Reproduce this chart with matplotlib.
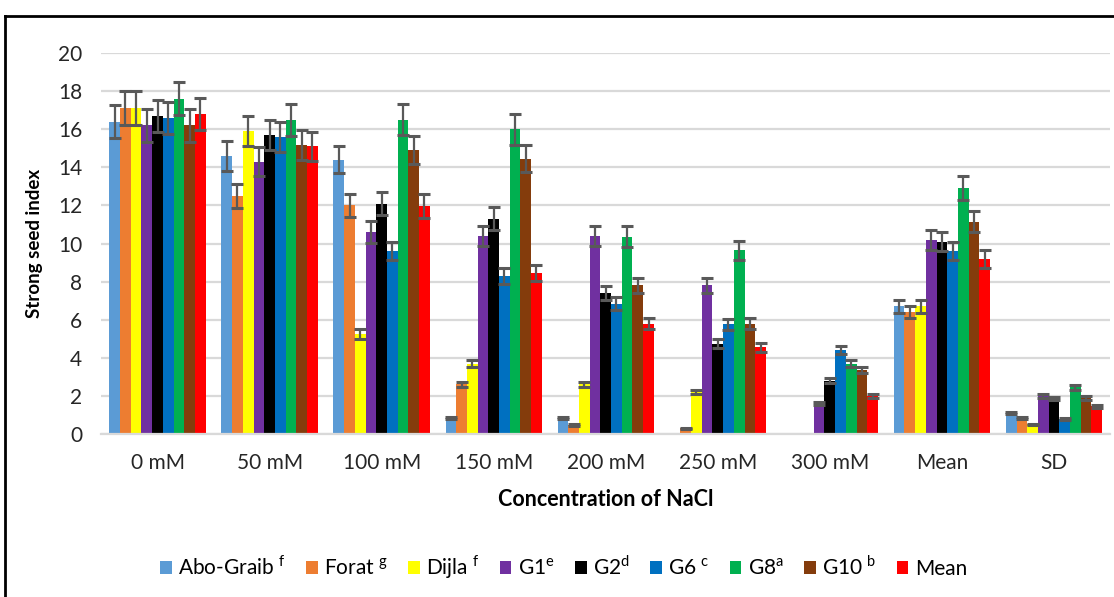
import numpy as np
import matplotlib
matplotlib.use('Agg')
import matplotlib.pyplot as plt
from matplotlib.lines import Line2D

plt.rcParams['font.family'] = ['Lato', 'DejaVu Sans']
plt.rcParams['mathtext.fontset'] = 'custom'
plt.rcParams['mathtext.rm'] = 'Lato'

# categories
groups = ['0 mM', '50 mM', '100 mM', '150 mM', '200 mM', '250 mM', '300 mM', 'Mean', 'SD']

# series names (legend) and colours
names = [r'Abo-Graib$^{\ \mathrm{f}}$', r'Forat$^{\ \mathrm{g}}$', r'Dijla$^{\ \mathrm{f}}$',
         r'G1$^{\mathrm{e}}$', r'G2$^{\mathrm{d}}$', r'G6$^{\ \mathrm{c}}$',
         r'G8$^{\mathrm{a}}$', r'G10$^{\ \mathrm{b}}$', 'Mean']
colors = ['#5B9BD5', '#ED7D31', '#FFFF00', '#7030A0', '#000000',
          '#0070C0', '#00B050', '#843C0C', '#FF0000']

# values
abo   = [16.4, 14.6, 14.4, 0.82, 0.82, 0.0, 0.0, 6.7, 1.1]
forat = [17.1, 12.5, 12.0, 2.6, 0.47, 0.3, 0.0, 6.4, 0.86]
dijla = [17.1, 15.9, 5.25, 3.7, 2.6, 2.2, 0.0, 6.7, 0.5]
g1    = [16.2, 14.3, 10.6, 10.4, 10.4, 7.8, 1.6, 10.2, 2.0]
g2    = [16.7, 15.7, 12.1, 11.3, 7.4, 4.75, 2.8, 10.1, 1.85]
g6    = [16.6, 15.6, 9.6, 8.3, 6.85, 5.75, 4.4, 9.6, 0.8]
g8    = [17.6, 16.5, 16.5, 16.0, 10.35, 9.65, 3.7, 12.9, 2.45]
g10   = [16.2, 15.15, 14.9, 14.45, 7.8, 5.8, 3.35, 11.15, 1.9]
mean  = [16.8, 15.1, 11.95, 8.45, 5.8, 4.55, 2.0, 9.2, 1.45]

# error bars
abo_err   = [0.85, 0.77, 0.7, 0.05, 0.05, 0.0, 0.0, 0.35, 0.05]
forat_err = [0.88, 0.62, 0.61, 0.13, 0.05, 0.03, 0.0, 0.33, 0.05]
dijla_err = [0.88, 0.8, 0.25, 0.2, 0.14, 0.11, 0.0, 0.35, 0.03]
g1_err    = [0.85, 0.76, 0.57, 0.52, 0.53, 0.4, 0.08, 0.52, 0.1]
g2_err    = [0.85, 0.8, 0.61, 0.6, 0.38, 0.25, 0.14, 0.5, 0.09]
g6_err    = [0.85, 0.79, 0.48, 0.42, 0.34, 0.29, 0.22, 0.48, 0.04]
g8_err    = [0.88, 0.83, 0.82, 0.81, 0.55, 0.5, 0.2, 0.64, 0.12]
g10_err   = [0.85, 0.79, 0.74, 0.7, 0.41, 0.3, 0.17, 0.55, 0.1]
mean_err  = [0.85, 0.77, 0.63, 0.44, 0.3, 0.23, 0.1, 0.47, 0.07]

series = [abo, forat, dijla, g1, g2, g6, g8, g10, mean]
errors = [abo_err, forat_err, dijla_err, g1_err, g2_err, g6_err, g8_err, g10_err, mean_err]

fig = plt.figure(figsize=(11.14, 5.97), dpi=100)
ax = fig.add_axes([0.0911, 0.273, 0.9053, 0.6382])

x = np.arange(len(groups))
w = 0.0955
n = len(series)
for i in range(n):
    vals = np.array(series[i])
    errs = np.array(errors[i])
    pos = x + (i - (n - 1) / 2) * w
    ax.bar(pos, vals, w, color=colors[i], label=names[i], zorder=2)
    m = vals > 0
    ax.errorbar(pos[m], vals[m], yerr=errs[m], fmt='none', ecolor='#595959',
                elinewidth=1.6, capsize=4.2, capthick=2.2, zorder=3)

ax.set_xlim(-0.5, len(groups) - 0.5)
ax.set_ylim(0, 20)
ax.set_yticks(range(0, 21, 2))
ax.set_xticks(x)
ax.set_xticklabels(groups, fontsize=15, color='#262626')
ax.tick_params(axis='y', labelsize=15, labelcolor='#262626', length=0, pad=14)
ax.tick_params(axis='x', length=0, pad=14)
ax.grid(axis='y', color='#d9d9d9', linewidth=1.6, zorder=0)
ax.set_axisbelow(True)
for s in ['top', 'right', 'left']:
    ax.spines[s].set_visible(False)
ax.spines['bottom'].set_color('#d9d9d9')
ax.spines['bottom'].set_linewidth(1.6)

ax.set_xlabel('Concentration of NaCl', fontsize=15.5, fontweight='bold', labelpad=11)
ax.set_ylabel('Strong seed index', fontsize=13.5, fontweight='bold', labelpad=11)

ax.legend(loc='center', bbox_to_anchor=(0.506, 0.05), bbox_transform=fig.transFigure,
          ncol=9, frameon=False, fontsize=15, handlelength=0.55, handleheight=0.55,
          handletextpad=0.3, columnspacing=1.0, borderpad=0)

# outer frame of the figure box
fig.add_artist(Line2D([5 / 1114, 5 / 1114], [0, 1 - 16 / 597], color='black', linewidth=2,
                      transform=fig.transFigure))
fig.add_artist(Line2D([5 / 1114, 1], [1 - 16 / 597, 1 - 16 / 597], color='black', linewidth=2,
                      transform=fig.transFigure))

fig.savefig('out.png', dpi=100)
